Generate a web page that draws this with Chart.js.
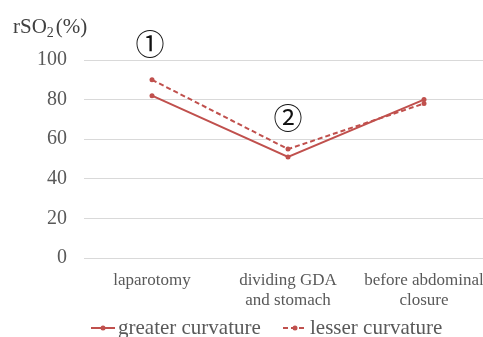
<!DOCTYPE html>
<html><head><meta charset="utf-8">
<script src="https://cdn.jsdelivr.net/npm/chart.js@4/dist/chart.umd.min.js"></script>
<style>html,body{margin:0;padding:0;overflow:hidden;background:#fff;width:483px;height:337px}canvas{display:block}</style>
</head><body>
<canvas id="c" width="500" height="337"></canvas>
<script>
const categories = [["laparotomy"], ["dividing GDA", "and stomach"], ["before abdominal", "closure"]];
const greaterCurvature = [82, 51, 80];
const lesserCurvature = [90, 55, 78];
const seriesNames = ["greater curvature", "lesser curvature"];
const yTicks = [0, 20, 40, 60, 80, 100];
const annotations = [{text: "①", cat: 0, y: 108, dx: -2}, {text: "②", cat: 1, y: 70.5, dx: 0}];

const RED = "#C0504D";
const SERIF = "'Liberation Serif','Times New Roman',serif";

const overlay = {
  id: "overlay",
  afterDraw(chart) {
    const ctx = chart.ctx;
    const xs = chart.scales.x, ys = chart.scales.y;
    ctx.save();
    // axis title rSO2 (%)
    ctx.fillStyle = "#404040";
    ctx.textBaseline = "alphabetic";
    ctx.textAlign = "left";
    ctx.font = "21px " + SERIF;
    let x = 13;
    ctx.fillText("rSO", x, 33);
    x += ctx.measureText("rSO").width;
    ctx.font = "14px " + SERIF;
    ctx.fillText("2", x, 37);
    x += ctx.measureText("2").width + 2;
    ctx.font = "21px " + SERIF;
    ctx.fillText("(%)", x, 33);
    // annotations
    ctx.fillStyle = "#111";
    ctx.textAlign = "center";
    ctx.textBaseline = "middle";
    ctx.font = "29px 'Noto Sans CJK JP','DejaVu Sans',sans-serif";
    annotations.forEach(a => {
      ctx.fillText(a.text, xs.getPixelForValue(a.cat) + a.dx, ys.getPixelForValue(a.y));
    });
    // legend
    const items = [{x0: 91, dash: []}, {x0: 283, dash: [5, 3]}];
    ctx.font = "21px " + SERIF;
    ctx.textAlign = "left";
    ctx.textBaseline = "middle";
    const ly = 328;
    chart.data.datasets.forEach((ds, i) => {
      const it = items[i];
      ctx.strokeStyle = RED;
      ctx.lineWidth = 2;
      ctx.setLineDash(it.dash);
      ctx.beginPath();
      ctx.moveTo(it.x0, ly);
      ctx.lineTo(it.x0 + 24, ly);
      ctx.stroke();
      ctx.setLineDash([]);
      ctx.fillStyle = RED;
      ctx.beginPath();
      ctx.arc(it.x0 + 12, ly, 2.5, 0, Math.PI * 2);
      ctx.fill();
      ctx.fillStyle = "#595959";
      ctx.fillText(ds.label, it.x0 + 27, ly);
    });
    ctx.restore();
  }
};

new Chart(document.getElementById("c"), {
  type: "line",
  data: {
    labels: categories,
    datasets: [
      {label: seriesNames[0], data: greaterCurvature, borderColor: RED, backgroundColor: RED, borderWidth: 2, pointRadius: 2.5, pointBorderWidth: 0, tension: 0},
      {label: seriesNames[1], data: lesserCurvature, borderColor: RED, backgroundColor: RED, borderWidth: 2, borderDash: [5, 3], pointRadius: 2.5, pointBorderWidth: 0, tension: 0}
    ]
  },
  options: {
    responsive: false,
    animation: false,
    devicePixelRatio: 1,
    layout: {padding: {left: 0, right: 8, top: 60, bottom: 0}},
    plugins: {legend: {display: false}, tooltip: {enabled: false}},
    scales: {
      x: {
        offset: true,
        grid: {display: false, drawTicks: false},
        border: {display: false},
        ticks: {color: "#595959", font: {family: SERIF, size: 17}, padding: 12, maxRotation: 0, autoSkip: false},
        afterFit(s) { s.height = 79; }
      },
      y: {
        min: 0, max: 100,
        afterBuildTicks(s) { s.ticks = yTicks.map(v => ({value: v})); },
        grid: {color: "#d9d9d9", lineWidth: 1, drawTicks: false},
        border: {display: false},
        ticks: {color: "#595959", font: {family: SERIF, size: 20}, padding: 17},
        afterFit(s) { s.width = 84; }
      }
    }
  },
  plugins: [overlay]
});
</script>
</body></html>
